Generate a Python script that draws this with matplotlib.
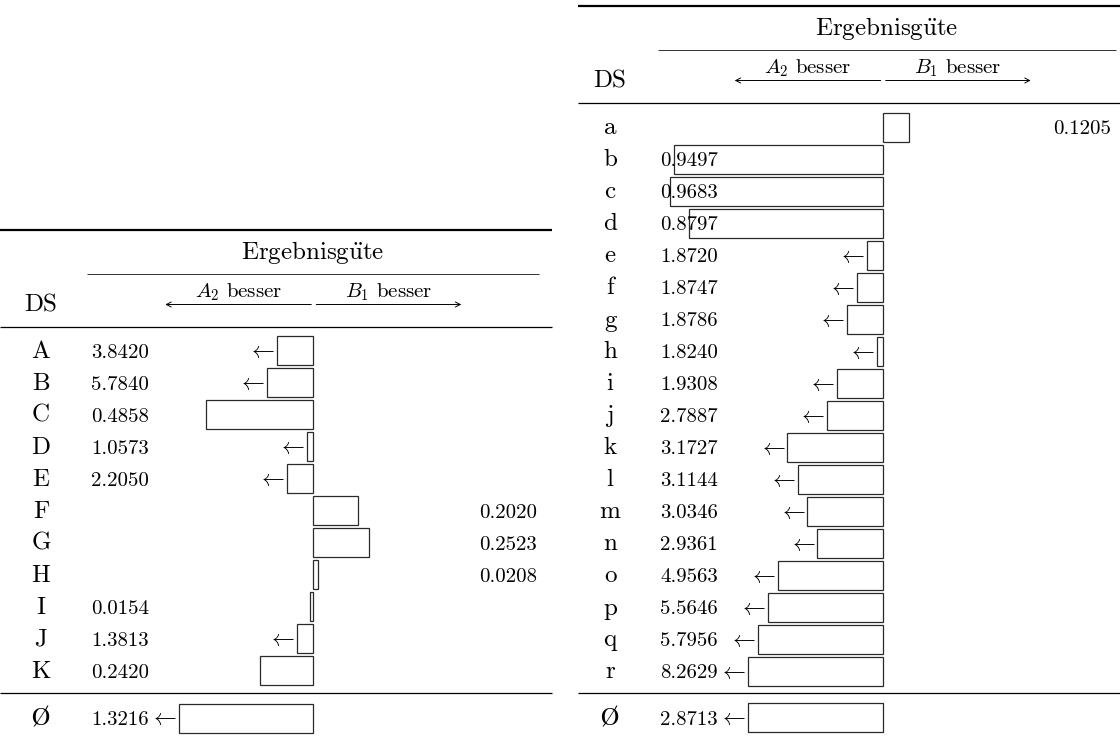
import matplotlib
matplotlib.use("Agg")
import matplotlib.pyplot as plt
from matplotlib.mathtext import MathTextParser

plt.rcParams['font.family'] = ['cmr10', 'DejaVu Serif']
plt.rcParams['mathtext.fontset'] = 'cm'
plt.rcParams['axes.unicode_minus'] = False

# ---------------- data ----------------
left_ds = ['A', 'B', 'C', 'D', 'E', 'F', 'G', 'H', 'I', 'J', 'K']
left_vals = [3.8420, 5.7840, 0.4858, 1.0573, 2.2050, 0.2020, 0.2523, 0.0208, 0.0154, 1.3813, 0.2420]
left_side = ['A', 'A', 'A', 'A', 'A', 'B', 'B', 'B', 'A', 'A', 'A']   # A = A2 besser, B = B1 besser
left_bar = [0.166, 0.210, 0.4858, 0.030, 0.120, 0.2020, 0.2523, 0.0208, 0.0154, 0.075, 0.2420]
left_avg = 1.3216
left_avg_bar = 0.61

right_ds = ['a', 'b', 'c', 'd', 'e', 'f', 'g', 'h', 'i', 'j', 'k', 'l', 'm', 'n', 'o', 'p', 'q', 'r']
right_vals = [0.1205, 0.9497, 0.9683, 0.8797, 1.8720, 1.8747, 1.8786, 1.8240, 1.9308, 2.7887,
              3.1727, 3.1144, 3.0346, 2.9361, 4.9563, 5.5646, 5.7956, 8.2629]
right_side = ['B'] + ['A'] * 17
right_bar = [0.1205, 0.9497, 0.9683, 0.8797, 0.071, 0.119, 0.164, 0.028, 0.209, 0.253,
             0.433, 0.387, 0.343, 0.297, 0.476, 0.521, 0.567, 0.612]
right_avg = 2.8713
right_avg_bar = 0.612

header = "Ergebnisg$\\ddot{\\mathrm{u}}$te"
col_ds = "DS"
lab_a = "$A_2$ besser"
lab_b = "$B_1$ besser"
avg_label = "Ø"
for cand in (r"$\mathrm{\O}$", r"$\O$"):
    try:
        MathTextParser('path').parse(cand)
        avg_label = cand
        break
    except Exception:
        pass

# ---------------- layout (pixels) ----------------
W, H = 1120, 737
S = 220.0    # px per value unit
P = 32.0     # px per row
BIG = 18
SMALL = 15
EDGE = '#2a2a2a'

fig = plt.figure(figsize=(W / 100, H / 100), dpi=100)


def draw_table(x0, x1, center, row0, top, cmid, lab_x, val_l, val_r,
               ds, vals, side, bars, avg, avg_bar):
    ax = fig.add_axes([x0 / W, 0, (x1 - x0) / W, 1])
    X = lambda px: (px - center) / S
    Y = lambda py: (py - row0) / P
    ax.set_xlim(X(x0), X(x1))
    ax.set_ylim(Y(H), Y(0))
    ax.axis('off')

    # rules
    ax.plot([X(x0), X(x1)], [Y(top), Y(top)], color='k', lw=1.6, solid_capstyle='butt', clip_on=False)
    ax.plot([X(cmid[0]), X(cmid[1])], [Y(top + 43.5), Y(top + 43.5)], color='#333333', lw=0.7,
            solid_capstyle='butt', clip_on=False)
    ax.plot([X(x0), X(x1)], [Y(top + 97), Y(top + 97)], color='k', lw=0.9, solid_capstyle='butt', clip_on=False)

    # header text
    ax.text((X(cmid[0]) + X(cmid[1])) / 2, Y(top + 29), header, fontsize=BIG, ha='center', va='baseline')
    ax.text(X(lab_x), Y(top + 82), col_ds, fontsize=BIG, ha='center', va='baseline')
    ax.text(X(center - 75), Y(top + 67.5), lab_a, fontsize=SMALL, ha='center', va='baseline')
    ax.text(X(center + 75), Y(top + 67.5), lab_b, fontsize=SMALL, ha='center', va='baseline')
    ya = Y(top + 74.5)
    ax.annotate('', xy=(X(center - 148), ya), xytext=(X(center - 2), ya),
                arrowprops=dict(arrowstyle='->,head_length=0.35,head_width=0.18', lw=0.7, color='k',
                                shrinkA=0, shrinkB=0), annotation_clip=False)
    ax.annotate('', xy=(X(center + 148), ya), xytext=(X(center + 3), ya),
                arrowprops=dict(arrowstyle='->,head_length=0.35,head_width=0.18', lw=0.7, color='k',
                                shrinkA=0, shrinkB=0), annotation_clip=False)

    n = len(ds)
    rows = list(range(n))
    signed = [-b if s == 'A' else b for b, s in zip(bars, side)]
    ax.barh(rows, signed, left=0, height=29 / P, fill=False, edgecolor=EDGE, lw=0.9)
    gap = 2.0 / S
    base = 7 / P
    for i in rows:
        ax.text(X(lab_x), i + base, ds[i], fontsize=BIG, ha='center', va='baseline')
        if side[i] == 'A':
            ax.text(X(val_l), i + base, f"{vals[i]:.4f}", fontsize=SMALL, ha='left', va='baseline')
            if vals[i] > 1:
                ax.text(signed[i] - gap, i + 0.02, r"$\leftarrow$", fontsize=16.5, ha='right', va='center')
        else:
            ax.text(X(val_r), i + base, f"{vals[i]:.4f}", fontsize=SMALL, ha='right', va='baseline')

    # average row
    y_rule = Y(693)
    ax.plot([X(x0), X(x1)], [y_rule, y_rule], color='k', lw=0.9, solid_capstyle='butt', clip_on=False)
    ya = Y(718)
    ax.barh([ya], [-avg_bar], left=0, height=29 / P, fill=False, edgecolor=EDGE, lw=0.9)
    ax.text(X(lab_x), ya + base, avg_label, fontsize=BIG, ha='center', va='baseline')
    ax.text(X(val_l), ya + base, f"{avg:.4f}", fontsize=SMALL, ha='left', va='baseline')
    ax.text(-avg_bar - gap, ya + 0.02, r"$\leftarrow$", fontsize=16.5, ha='right', va='center')


draw_table(0, 552, 313.3, 350.5, 230, (87, 539), 41, 91, 537,
           left_ds, left_vals, left_side, left_bar, left_avg, left_avg_bar)
draw_table(578, 1120, 882.7, 127.5, 6, (658, 1116), 610, 660, 1111,
           right_ds, right_vals, right_side, right_bar, right_avg, right_avg_bar)

fig.savefig("out.png", dpi=100)
